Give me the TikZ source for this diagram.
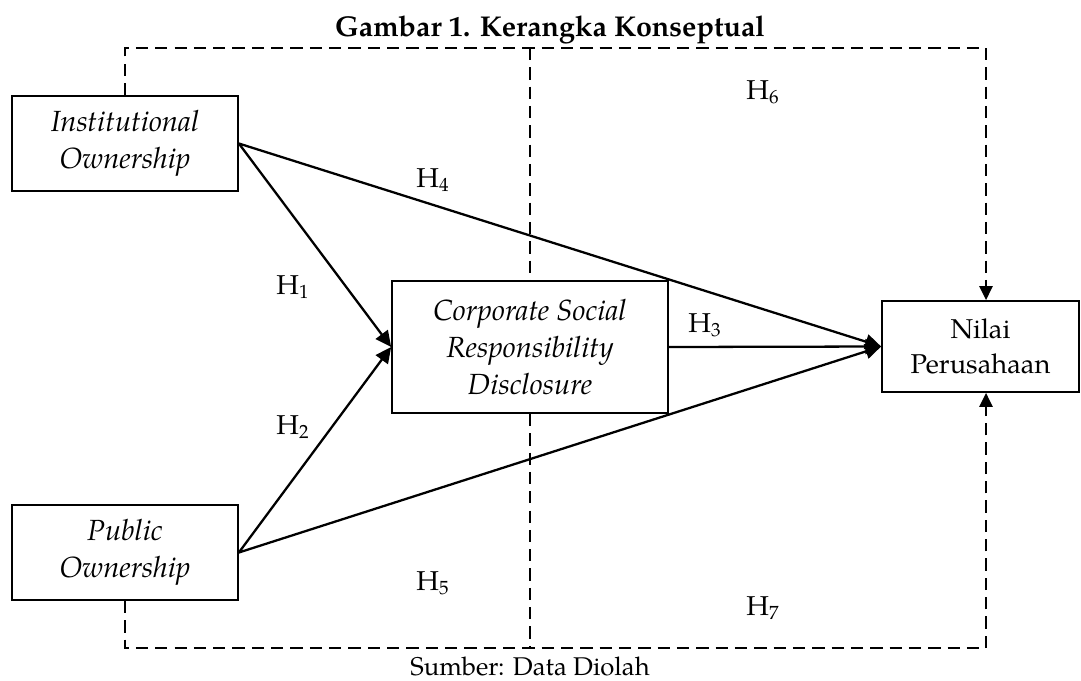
\documentclass[tikz,border=0pt]{standalone}
\usepackage{fontspec}
\setmainfont{TeX Gyre Pagella}
\usetikzlibrary{arrows.meta}
\begin{document}
\begin{tikzpicture}[x=0.02cm,y=-0.02cm,
  box/.style={draw, line width=1pt, align=center, inner sep=0pt,
    font=\fontsize{16.6}{21}\selectfont\itshape},
  pbox/.style={box, font=\fontsize{15.5}{20}\selectfont},
  arr/.style={line width=1.3pt, -{Triangle[length=9pt,width=8.5pt]}},
  dsh/.style={line width=1.25pt, dash pattern=on 7pt off 4pt},
  darr/.style={dsh, -{Triangle[length=8pt,width=7.5pt]}},
  lbl/.style={font=\fontsize{15.5}{20}\selectfont, inner sep=0pt}]
\useasboundingbox (0,0) rectangle (1081,680);

\node[font=\fontsize{16.3}{21}\selectfont\bfseries, inner sep=0pt] (title) at (550,30) {Gambar 1. Kerangka Konseptual};
\node[font=\fontsize{14.6}{20}\selectfont, inner sep=0pt] (src) at (530,666) {Sumber: Data Diolah};

\node[box, minimum width=4.52cm, minimum height=1.9cm] (inst) at (125,143.5) {Institutional\\Ownership};
\node[box, minimum width=4.52cm, minimum height=1.9cm] (pub) at (125,552.5) {Public\\Ownership};
\node[box, minimum width=5.52cm, minimum height=2.64cm] (csr) at (530,347) {Corporate Social\\Responsibility\\Disclosure};
\node[pbox, minimum width=3.94cm, minimum height=1.82cm] (nilai) at (980.5,346.5) {Nilai\\Perusahaan};

\coordinate (tl) at (125,48);
\coordinate (tm) at (530,48);
\coordinate (tr) at (986,48);
\coordinate (bl) at (125,648);
\coordinate (bm) at (530,648);
\coordinate (br) at (986,648);

\draw[dsh] (inst.north) -- (tl) -- (tr);
\draw[darr] (tr) -- (tr |- nilai.north);
\draw[dsh] (pub.south) -- (bl) -- (br);
\draw[darr] (br) -- (br |- nilai.south);
\draw[dsh] (tm) -- (csr.north);
\draw[dsh] (csr.south) -- (bm);

\draw[arr] (inst.east) -- (csr.west);
\draw[arr] (pub.east) -- (csr.west);
\draw[arr] (inst.east) -- (nilai.west);
\draw[arr] (pub.east) -- (nilai.west);
\draw[arr] (csr.east) -- (nilai.west);

\node[lbl] (h1) at (293,287) {H\textsubscript{1}};
\node[lbl] (h2) at (293,427) {H\textsubscript{2}};
\node[lbl] (h3) at (705,325) {H\textsubscript{3}};
\node[lbl] (h4) at (433,180) {H\textsubscript{4}};
\node[lbl] (h5) at (433,583) {H\textsubscript{5}};
\node[lbl] (h6) at (763,92) {H\textsubscript{6}};
\node[lbl] (h7) at (763,608) {H\textsubscript{7}};
\end{tikzpicture}
\end{document}
